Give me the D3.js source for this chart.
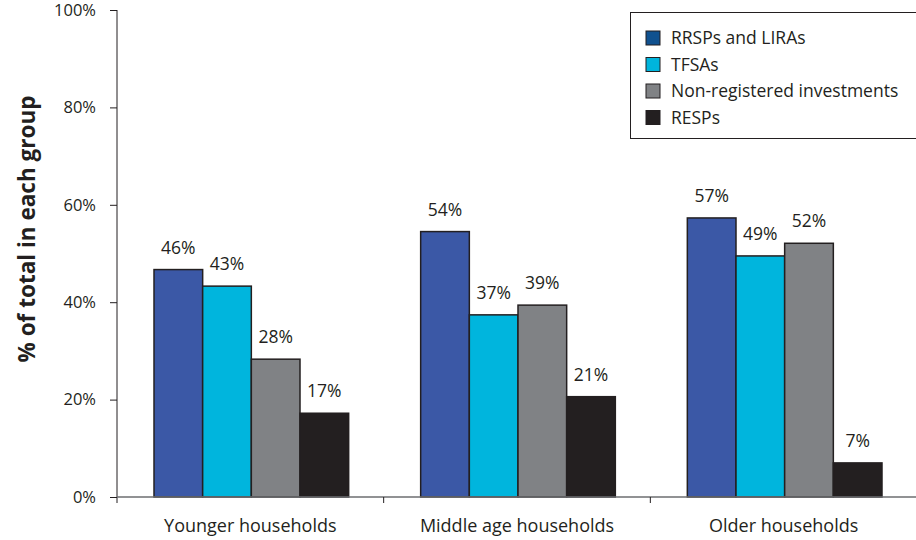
<!DOCTYPE html>
<html>
<head>
<meta charset="utf-8">
<script src="https://cdn.jsdelivr.net/npm/d3@7"></script>
<style>
    body { margin: 0; background: #fff; }
    text { font-family: "Open Sans", Lato, sans-serif; fill: #231f20; }
</style>
</head>
<body>
<div id="graphique"></div>
<script>
// donnees
const groupes = ["Younger households", "Middle age households", "Older households"];
const series = ["RRSPs and LIRAs", "TFSAs", "Non-registered investments", "RESPs"];
const rrsp = [46.7, 54.5, 57.3];
const tfsa = [43.3, 37.4, 49.5];
const nonEnreg = [28.3, 39.4, 52.1];
const resp = [17.2, 20.6, 7.0];
const etiquettes = [
    ["46%", "43%", "28%", "17%"],
    ["54%", "37%", "39%", "21%"],
    ["57%", "49%", "52%", "7%"]
];
const graduations = [0, 20, 40, 60, 80, 100];

const couleurs = ["#3b58a6", "#00b5dd", "#808285", "#231f20"];
const couleursLegende = ["#10518f", "#00b5dd", "#808285", "#231f20"];

const largeur = 916, hauteur = 540;
const gauche = 117, haut = 10, bas = 497;

const svg = d3.select("#graphique")
    .append("svg")
    .attr("width", largeur)
    .attr("height", hauteur);

const y = d3.scaleLinear().domain([0, 100]).range([bas, haut]);
const x0 = d3.scaleBand().domain(groupes).range([gauche, 917]).paddingInner(0).paddingOuter(0);
const x1 = d3.scaleBand().domain(series).range([37, x0.bandwidth() - 35]);

const valeurs = groupes.map((g, i) => [rrsp[i], tfsa[i], nonEnreg[i], resp[i]]);

// barres
groupes.forEach(function (g, i) {
    const grp = svg.append("g").attr("transform", "translate(" + x0(g) + ",0)");
    series.forEach(function (s, j) {
        const v = valeurs[i][j];
        grp.append("rect")
            .attr("x", x1(s))
            .attr("y", y(v))
            .attr("width", x1.bandwidth())
            .attr("height", bas - y(v))
            .attr("fill", couleurs[j])
            .attr("stroke", "#231f20")
            .attr("stroke-width", 1.5);
        grp.append("text")
            .attr("x", x1(s) + x1.bandwidth() / 2)
            .attr("y", y(v) - 16)
            .attr("text-anchor", "middle")
            .attr("font-size", 17.5)
            .text(etiquettes[i][j]);
    });
});

// axe y
const axeY = svg.append("g")
    .attr("transform", "translate(" + gauche + ",0)")
    .call(d3.axisLeft(y).tickValues(graduations).tickSize(7).tickPadding(14)
        .tickFormat(d => d + "%"));
axeY.select(".domain").attr("d", "M0," + haut + "V" + (bas + 6)).attr("stroke", "#231f20");
axeY.selectAll(".tick line").attr("stroke", "#231f20");
axeY.selectAll(".tick text")
    .attr("font-family", "'Open Sans', sans-serif")
    .attr("font-size", 16.5)
    .attr("fill", "#231f20");

// axe x
svg.append("line")
    .attr("x1", gauche).attr("x2", largeur)
    .attr("y1", bas).attr("y2", bas)
    .attr("stroke", "#6d6e71").attr("stroke-width", 1.5);
groupes.slice(1).forEach(function (g) {
    svg.append("line")
        .attr("x1", x0(g)).attr("x2", x0(g))
        .attr("y1", bas).attr("y2", bas + 6)
        .attr("stroke", "#231f20");
});
groupes.forEach(function (g) {
    svg.append("text")
        .attr("x", x0(g) + x0.bandwidth() / 2)
        .attr("y", 532)
        .attr("text-anchor", "middle")
        .attr("font-size", 18)
        .text(g);
});

// titre axe y
svg.append("text")
    .attr("transform", "translate(35,229) rotate(-90)")
    .attr("text-anchor", "middle")
    .attr("font-size", 22.5)
    .attr("font-weight", "bold")
    .text("% of total in each group");

// legende
const legende = svg.append("g");
legende.append("rect")
    .attr("x", 630.5).attr("y", 12.5)
    .attr("width", 300).attr("height", 126)
    .attr("fill", "white")
    .attr("stroke", "#231f20");
series.forEach(function (s, j) {
    const ly = 38 + j * 26.5;
    legende.append("rect")
        .attr("x", 646).attr("y", ly - 7)
        .attr("width", 14).attr("height", 14)
        .attr("fill", couleursLegende[j])
        .attr("stroke", "#231f20")
        .attr("stroke-width", 1);
    legende.append("text")
        .attr("x", 671).attr("y", ly + 6)
        .attr("font-size", 17.5)
        .text(s);
});
</script>
</body>
</html>
